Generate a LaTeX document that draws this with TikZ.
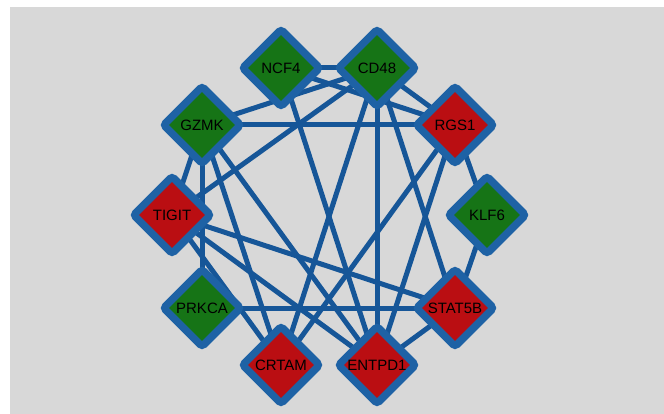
\documentclass[tikz,border=0pt]{standalone}
\usepackage{fontspec}
\setmainfont{Liberation Sans}
\usetikzlibrary{shapes.geometric}
\pgfdeclarelayer{bg}
\pgfdeclarelayer{edges}
\pgfsetlayers{bg,edges,main}
\definecolor{bgc}{RGB}{216,216,216}
\definecolor{nodeblue}{RGB}{30,98,165}
\definecolor{edgeblue}{RGB}{22,86,152}
\definecolor{upred}{RGB}{186,14,18}
\definecolor{downgreen}{RGB}{22,116,22}
\begin{document}
\begin{tikzpicture}[x=1pt,y=-1pt,
  gene/.style={diamond, aspect=1, minimum size=80pt, inner sep=0pt,
    draw=nodeblue, line width=7.5pt, rounded corners=3pt,
    font=\fontsize{15}{15}\selectfont, text=black},
  upg/.style={gene, fill=upred},
  downg/.style={gene, fill=downgreen},
  link/.style={draw=edgeblue, line width=5pt}]
\begin{pgfonlayer}{bg}
\fill[white] (0,0) rectangle (664,414);
\fill[bgc] (10,7) rectangle (664,414);
\end{pgfonlayer}
\useasboundingbox (0,0) rectangle (664,414);
\node[downg] (NCF4)   at (281,68)  {NCF4};
\node[downg] (CD48)   at (377,68)  {CD48};
\node[downg] (GZMK)   at (202,125) {GZMK};
\node[upg]   (RGS1)   at (455,125) {RGS1};
\node[upg]   (TIGIT)  at (172,215) {TIGIT};
\node[downg] (KLF6)   at (487,215) {KLF6};
\node[downg] (PRKCA)  at (202,308) {PRKCA};
\node[upg]   (STAT5B) at (455,308) {STAT5B};
\node[upg]   (CRTAM)  at (281,365) {CRTAM};
\node[upg]   (ENTPD1) at (377,365) {ENTPD1};
\begin{pgfonlayer}{edges}
\foreach \a/\b in {NCF4/CD48, NCF4/RGS1, NCF4/ENTPD1,
  CD48/GZMK, CD48/RGS1, CD48/TIGIT, CD48/CRTAM, CD48/ENTPD1, CD48/STAT5B,
  GZMK/RGS1, GZMK/TIGIT, GZMK/PRKCA, GZMK/CRTAM, GZMK/ENTPD1,
  RGS1/KLF6, RGS1/CRTAM, RGS1/ENTPD1,
  TIGIT/CRTAM, TIGIT/ENTPD1, TIGIT/STAT5B,
  KLF6/STAT5B, PRKCA/STAT5B, STAT5B/ENTPD1}
  \draw[link] (\a.center) -- (\b.center);
\end{pgfonlayer}
\end{tikzpicture}
\end{document}
